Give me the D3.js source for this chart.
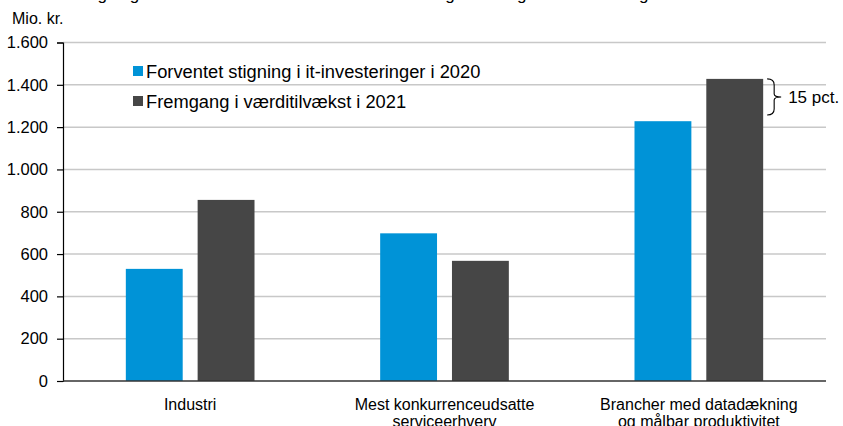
<!DOCTYPE html>
<html>
<head>
<meta charset="utf-8">
<script src="https://cdn.jsdelivr.net/npm/d3@7"></script>
<style>
  html, body { margin: 0; padding: 0; background: #fff; }
  svg { display: block; font-family: "Liberation Sans", Arial, sans-serif; }
</style>
</head>
<body>
<svg id="chart" width="843" height="426"></svg>
<script>
const titleText = "Forventet stigning i værditilvækst i brancherne ved mere digitalisering i erhvervene og";
const unitLabel = "Mio. kr.";
const categories = [
  ["Industri"],
  ["Mest konkurrenceudsatte", "serviceerhverv"],
  ["Brancher med datadækning", "og målbar produktivitet"]
];
const seriesNames = ["Forventet stigning i it-investeringer i 2020", "Fremgang i værditilvækst i 2021"];
const seriesColors = ["#0093d7", "#464646"];
const itInvest = [530, 698, 1228];
const valueAdded = [856, 568, 1428];
const yTicks = [0, 200, 400, 600, 800, 1000, 1200, 1400, 1600];
const bracketRange = [1428, 1257];
const bracketLabel = "15 pct.";

(function () {
const svg = d3.select("#chart");
const fmt = v => d3.format(",")(v).replace(/,/g, ".");

const pLeft = 63, pRight = 826, pTop = 42.5, pBottom = 381;
const y = d3.scaleLinear().domain([0, 1600]).range([pBottom, pTop]);
const catKeys = categories.map(c => c.join(" "));
const x0 = d3.scaleBand().domain(catKeys).range([pLeft, pRight]).padding(0);
const x1 = d3.scaleBand().domain([0, 1]).range([0, x0.bandwidth()])
  .paddingInner(0.208).paddingOuter(0.875);

// title (clipped at top in the reference)
svg.append("text").attr("x", 4).attr("y", 0.3)
  .attr("font-size", 17).attr("fill", "#000").text(titleText);

// unit label
svg.append("text").attr("x", 12).attr("y", 24)
  .attr("font-size", 16).attr("fill", "#000").text(unitLabel);

// gridlines
svg.append("g").selectAll("line").data(yTicks.filter(d => d > 0)).join("line")
  .attr("x1", pLeft).attr("x2", pRight)
  .attr("y1", d => y(d)).attr("y2", d => y(d))
  .attr("stroke", "#c8c8c8").attr("stroke-width", 1.5);

// y axis
const yAxis = svg.append("g").attr("transform", `translate(${pLeft},0)`)
  .call(d3.axisLeft(y).tickValues(yTicks).tickFormat(fmt).tickSize(6).tickPadding(9));
yAxis.select(".domain").attr("stroke", "#000").attr("stroke-width", 1.2);
yAxis.selectAll(".tick line").attr("stroke", "#000").attr("stroke-width", 1.2);
yAxis.selectAll(".tick text").attr("font-size", 16.5).attr("fill", "#000")
  .attr("font-family", "Liberation Sans, Arial, sans-serif");

// bars
const data = [itInvest, valueAdded];
const groups = svg.append("g").selectAll("g").data(catKeys).join("g")
  .attr("transform", d => `translate(${x0(d)},0)`);
groups.selectAll("rect").data((d, i) => data.map((s, j) => ({ s: j, v: s[i] }))).join("rect")
  .attr("x", d => x1(d.s)).attr("width", x1.bandwidth())
  .attr("y", d => y(d.v)).attr("height", d => y(0) - y(d.v))
  .attr("fill", d => seriesColors[d.s]);

// x axis line
svg.append("line").attr("x1", pLeft).attr("x2", pRight).attr("y1", pBottom).attr("y2", pBottom)
  .attr("stroke", "#333").attr("stroke-width", 1.5);

// x labels
const xl = svg.append("g").selectAll("text").data(categories).join("text")
  .attr("x", (d, i) => x0(catKeys[i]) + x0.bandwidth() / 2)
  .attr("y", 410).attr("text-anchor", "middle").attr("font-size", 16).attr("fill", "#000");
xl.selectAll("tspan").data(d => d).join("tspan")
  .attr("x", function () { return this.parentNode.getAttribute("x"); })
  .attr("dy", (d, i) => i === 0 ? 0 : 17).text(d => d);

// legend
const lg = svg.append("g").selectAll("g").data(seriesNames).join("g")
  .attr("transform", (d, i) => `translate(133,${66 + i * 30})`);
lg.append("rect").attr("width", 10).attr("height", 10).attr("fill", (d, i) => seriesColors[i]);
lg.append("text").attr("x", 13).attr("y", 12).attr("font-size", 18.3).attr("fill", "#000").text(d => d);

// bracket
const bx = x0(catKeys[2]) + x1(1) + x1.bandwidth() + 4;
const by1 = y(bracketRange[0]), by2 = y(bracketRange[1]);
const bm = (by1 + by2) / 2;
const bv = bx + 7;
const bpath = `M${bx},${by1} Q${bv},${by1} ${bv},${by1 + 6} L${bv},${bm - 3} Q${bv},${bm} ${bv + 7},${bm}` +
  ` M${bv + 7},${bm} Q${bv},${bm} ${bv},${bm + 3} L${bv},${by2 - 6} Q${bv},${by2} ${bx},${by2}`;
svg.append("path").attr("d", bpath).attr("fill", "none").attr("stroke", "#000").attr("stroke-width", 1.1);
svg.append("text").attr("x", bx + 21).attr("y", bm + 6).attr("font-size", 17).attr("fill", "#000").text(bracketLabel);
})();
</script>
</body>
</html>
